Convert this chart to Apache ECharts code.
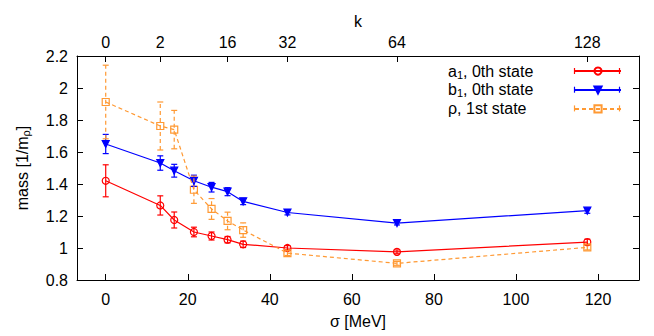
<!DOCTYPE html>
<html><head><meta charset="utf-8">
<script src="https://cdn.jsdelivr.net/npm/echarts@6/dist/echarts.min.js"></script>
<style>html,body{margin:0;padding:0;background:#fff}#c{width:654px;height:336px}</style>
</head><body><div id="c"></div>
<script>
// ---- data ----
const sigma   = [0, 13.3, 16.7, 21.5, 25.8, 29.7, 33.5, 44.3, 71.0, 117.4];
const a1      = [1.42, 1.266, 1.175, 1.10, 1.075, 1.052, 1.023, 1.0, 0.976, 1.037];
const a1Err   = [0.10, 0.06, 0.05, 0.03, 0.025, 0.02, 0.02, 0.015, 0.012, 0.018];
const b1      = [1.65, 1.531, 1.483, 1.42, 1.38, 1.352, 1.291, 1.222, 1.156, 1.233];
const b1Err   = [0.06, 0.045, 0.04, 0.035, 0.03, 0.025, 0.02, 0.015, 0.012, 0.016];
const rho1    = [1.9125, 1.7625, 1.74, 1.364, 1.244, 1.169, 1.112, 0.968, 0.904, 1.004];
const rho1Err = [0.23, 0.15, 0.12, 0.085, 0.065, 0.055, 0.045, 0.015, 0.012, 0.016];
const xTicks = [0, 20, 40, 60, 80, 100, 120];
const kTickSigma  = [0, 13.3, 29.7, 44.3, 71.0, 117.4];
const kTickLabels = ['0', '2', '16', '32', '64', '128'];
const seriesNames = ['a1', 'b1', 'rho'];
const legendTexts = {
  a1: '{n|a}{s|1}{n|, 0th state}',
  b1: '{n|b}{s|1}{n|, 0th state}',
  rho: '{n|ρ, 1st state}'
};
const colors = {a1: '#ff0000', b1: '#0000ff', rho: '#ff9933'};

// ---- chart ----
const FONT = '"Liberation Sans", Arial, Helvetica, sans-serif';
const FS = 16;
const chart = echarts.init(document.getElementById('c'), null, {renderer: 'svg'});
const XMIN = -7, XMAX = 130;

function lineSeries(name, vals, symbol, size, rotate, filled, dashed) {
  const c = colors[name];
  return {
    type: 'line', name: name,
    data: sigma.map((s, i) => [s, vals[i]]),
    symbol: symbol, symbolSize: size, symbolRotate: rotate,
    showAllSymbol: true,
    lineStyle: {color: c, width: 1.2, type: dashed ? [4, 3] : 'solid'},
    itemStyle: {color: filled ? c : 'rgba(255,255,255,0)', borderColor: c, borderWidth: 1.2},
    emphasis: {disabled: true},
    z: 2, animation: false
  };
}
function errSeries(name, vals, errs, dashed) {
  const c = colors[name];
  return {
    type: 'custom', name: name + '_err',
    data: sigma.map((s, i) => [s, vals[i] - errs[i], vals[i] + errs[i]]),
    encode: {x: 0, y: [1, 2]},
    renderItem: function (params, api) {
      const lo = api.coord([api.value(0), api.value(1)]);
      const hi = api.coord([api.value(0), api.value(2)]);
      const hw = 3;
      const st = {stroke: c, lineWidth: 1.2, lineDash: dashed ? [4, 3] : null, fill: null};
      const cap = {stroke: c, lineWidth: 1.2, fill: null};
      return {type: 'group', children: [
        {type: 'line', shape: {x1: lo[0], y1: lo[1], x2: hi[0], y2: hi[1]}, style: st},
        {type: 'line', shape: {x1: lo[0] - hw, y1: lo[1], x2: lo[0] + hw, y2: lo[1]}, style: cap},
        {type: 'line', shape: {x1: hi[0] - hw, y1: hi[1], x2: hi[0] + hw, y2: hi[1]}, style: cap}
      ]};
    },
    silent: true, z: 3, animation: false
  };
}

const richSub = {
  n: {fontSize: FS, lineHeight: 18, color: '#000', fontFamily: FONT, verticalAlign: 'middle'},
  s: {fontSize: 11, lineHeight: 10, color: '#000', fontFamily: FONT, verticalAlign: 'bottom'}
};

// key: labels (text) + error-bar end caps next to the legend samples
const LEG_CY0 = 71, LEG_ROW = 18.7, LEG_TEXT_X = 448, LEG_X0 = 574, LEG_X1 = 620, LEG_IH = 9;
const keyGraphics = [];
seriesNames.forEach((n, i) => {
  const cy = LEG_CY0 + i * LEG_ROW;
  keyGraphics.push({
    type: 'text', silent: true,
    style: {text: legendTexts[n], rich: richSub, x: LEG_TEXT_X, y: cy,
            verticalAlign: 'middle', align: 'left', fontFamily: FONT, fontSize: FS}
  });
  [LEG_X0 + 0.5, LEG_X1 - 0.5].forEach(x => keyGraphics.push({
    type: 'line', shape: {x1: x, y1: cy - 3, x2: x, y2: cy + 3},
    style: {stroke: colors[n], lineWidth: 1.2}, silent: true
  }));
});

const axisLineStyle = {color: '#000', width: 1};
const option = {
  backgroundColor: '#fff',
  textStyle: {fontFamily: FONT},
  grid: {left: 77, right: 15, top: 56, bottom: 56, containLabel: false},
  graphic: keyGraphics,
  legend: {
    orient: 'vertical', left: LEG_X0, top: LEG_CY0 - LEG_IH / 2, padding: 0,
    itemWidth: LEG_X1 - LEG_X0, itemHeight: LEG_IH, itemGap: LEG_ROW - LEG_IH,
    data: seriesNames,
    formatter: () => '',
    textStyle: {fontSize: 1, lineHeight: 1, fontFamily: FONT},
    selectedMode: false
  },
  xAxis: [
    {
      type: 'value', position: 'bottom', min: XMIN, max: XMAX,
      name: 'σ [MeV]', nameLocation: 'middle', nameGap: 33,
      nameTextStyle: {fontSize: FS, color: '#000', fontFamily: FONT},
      axisLine: {show: true, onZero: false, lineStyle: axisLineStyle},
      axisTick: {show: true, inside: true, length: 6, customValues: xTicks, lineStyle: {color: '#000'}},
      axisLabel: {customValues: xTicks, fontSize: FS, color: '#000', margin: 11, fontFamily: FONT},
      splitLine: {show: false}
    },
    {
      type: 'value', position: 'top', min: XMIN, max: XMAX,
      name: 'k', nameLocation: 'middle', nameGap: 22,
      nameTextStyle: {fontSize: FS, color: '#000', fontFamily: FONT},
      axisLine: {show: true, onZero: false, lineStyle: axisLineStyle},
      axisTick: {show: true, inside: true, length: 6, customValues: kTickSigma, lineStyle: {color: '#000'}},
      axisLabel: {
        customValues: kTickSigma, fontSize: FS, color: '#000', margin: 6, fontFamily: FONT,
        formatter: v => { const i = kTickSigma.indexOf(v); return i >= 0 ? kTickLabels[i] : ''; }
      },
      splitLine: {show: false}
    }
  ],
  yAxis: [
    {
      type: 'value', position: 'left', min: 0.8, max: 2.2, interval: 0.2,
      name: '{n|mass [1/m}{s|ρ}{n|]}', nameLocation: 'middle', nameGap: 46,
      nameTextStyle: {fontFamily: FONT, color: '#000', rich: richSub},
      axisLine: {show: true, onZero: false, lineStyle: axisLineStyle},
      axisTick: {show: true, inside: true, length: 6, lineStyle: {color: '#000'}},
      axisLabel: {fontSize: FS, color: '#000', margin: 9, fontFamily: FONT},
      splitLine: {show: false}
    },
    {
      type: 'value', position: 'right', min: 0.8, max: 2.2, interval: 0.2,
      axisLine: {show: true, onZero: false, lineStyle: axisLineStyle},
      axisTick: {show: true, inside: true, length: 6, lineStyle: {color: '#000'}},
      axisLabel: {show: false},
      splitLine: {show: false}
    }
  ],
  series: [
    errSeries('a1', a1, a1Err, false),
    errSeries('b1', b1, b1Err, false),
    errSeries('rho', rho1, rho1Err, true),
    lineSeries('a1', a1, 'circle', 7, 0, false, false),
    lineSeries('b1', b1, 'triangle', 7, 180, true, false),
    lineSeries('rho', rho1, 'rect', 7, 0, false, true)
  ],
  animation: false
};
chart.setOption(option);
</script>
</body></html>
